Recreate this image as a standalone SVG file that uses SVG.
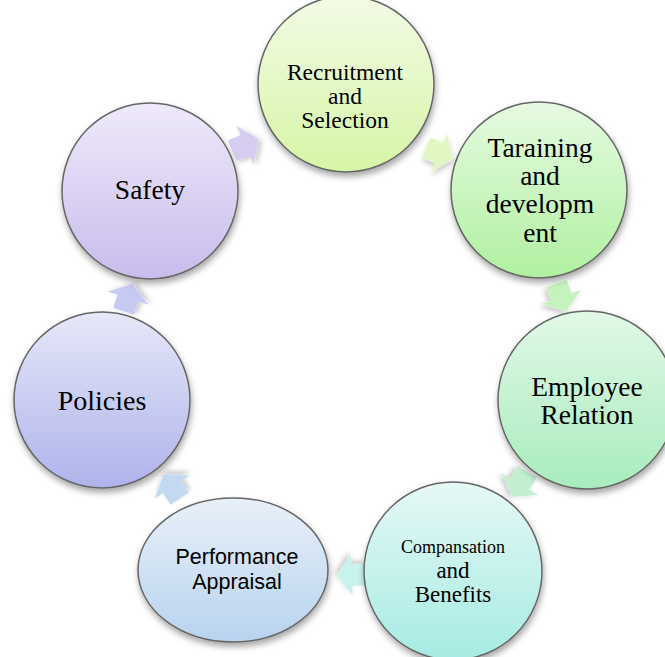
<svg xmlns="http://www.w3.org/2000/svg" width="665" height="657" viewBox="0 0 665 657">
  <style>
    .node { stroke: #666; stroke-width: 1.5; filter: url(#shadow); }
    .serif { font-family: "Liberation Serif", "Times New Roman", serif; fill: #000; text-anchor: middle; }
    .sans { font-family: "Liberation Sans", Arial, sans-serif; fill: #000; text-anchor: middle; }
    .arrow { filter: url(#ashadow); }
  </style>
  <defs>
    <filter id="shadow" x="-20%" y="-20%" width="140%" height="150%">
      <feDropShadow dx="1" dy="4" stdDeviation="3" flood-color="#000" flood-opacity="0.35"/>
    </filter>
    <filter id="ashadow" x="-40%" y="-40%" width="180%" height="180%">
      <feDropShadow dx="2" dy="3" stdDeviation="2.5" flood-color="#000" flood-opacity="0.22"/>
    </filter>
    <linearGradient id="gRec" x1="0" y1="0" x2="0" y2="1"><stop offset="0" stop-color="#f3fbe6"/><stop offset="1" stop-color="#d6f5a6"/></linearGradient>
    <linearGradient id="gTar" x1="0" y1="0" x2="0" y2="1"><stop offset="0" stop-color="#e6fae2"/><stop offset="1" stop-color="#b0f0a0"/></linearGradient>
    <linearGradient id="gEmp" x1="0" y1="0" x2="0" y2="1"><stop offset="0" stop-color="#e2f8e6"/><stop offset="1" stop-color="#a8ecbe"/></linearGradient>
    <linearGradient id="gCom" x1="0" y1="0" x2="0" y2="1"><stop offset="0" stop-color="#e6f8f6"/><stop offset="1" stop-color="#a6ebe3"/></linearGradient>
    <linearGradient id="gPer" x1="0" y1="0" x2="0" y2="1"><stop offset="0" stop-color="#e8f0f8"/><stop offset="1" stop-color="#b8d3ef"/></linearGradient>
    <linearGradient id="gPol" x1="0" y1="0" x2="0" y2="1"><stop offset="0" stop-color="#e6e8f8"/><stop offset="1" stop-color="#aeb3eb"/></linearGradient>
    <linearGradient id="gSaf" x1="0" y1="0" x2="0" y2="1"><stop offset="0" stop-color="#efeafa"/><stop offset="1" stop-color="#c8bcec"/></linearGradient>
    <!-- block arrow pointing along +x, centred on the origin -->
    <path id="blk" d="M-14,-11 L0,-11 L0,-21 L15,0 L0,21 L0,11 L-14,11 Z"/>
  </defs>

  <rect width="665" height="657" fill="#fff"/>

  <g id="connectors">
    <use href="#blk" class="arrow" fill="#d6cdf0" transform="translate(245,145) rotate(-24)"/>
    <use href="#blk" class="arrow" fill="#e0f7c2" transform="translate(439,153) rotate(23)"/>
    <use href="#blk" class="arrow" fill="#c6f2bd" transform="translate(561,297) rotate(71)"/>
    <use href="#blk" class="arrow" fill="#c1efd0" transform="translate(520,484) rotate(121)"/>
    <use href="#blk" class="arrow" fill="#c8f3ec" transform="translate(352,575) rotate(178)"/>
    <use href="#blk" class="arrow" fill="#c3d9f2" transform="translate(172,487) rotate(236)"/>
    <use href="#blk" class="arrow" fill="#c6c9f2" transform="translate(128,298) rotate(-72)"/>
  </g>

  <g id="recruitment">
    <circle class="node" cx="346" cy="84" r="88" fill="url(#gRec)"/>
    <text class="serif" font-size="23.5" x="345" y="80">Recruitment</text>
    <text class="serif" font-size="23.5" x="345" y="104">and</text>
    <text class="serif" font-size="23.5" x="345" y="128">Selection</text>
  </g>

  <g id="training">
    <circle class="node" cx="539" cy="190" r="88" fill="url(#gTar)"/>
    <text class="serif" font-size="27.5" x="540" y="157">Taraining</text>
    <text class="serif" font-size="27.5" x="540" y="185">and</text>
    <text class="serif" font-size="27.5" x="540" y="213">developm</text>
    <text class="serif" font-size="27.5" x="540" y="242">ent</text>
  </g>

  <g id="employee-relation">
    <circle class="node" cx="587" cy="400" r="89" fill="url(#gEmp)"/>
    <text class="serif" font-size="27.5" x="587" y="396">Employee</text>
    <text class="serif" font-size="27.5" x="587" y="424">Relation</text>
  </g>

  <g id="compensation">
    <circle class="node" cx="453" cy="571" r="89" fill="url(#gCom)"/>
    <text class="serif" font-size="18" x="453" y="553">Compansation</text>
    <text class="serif" font-size="23" x="453" y="578">and</text>
    <text class="serif" font-size="23" x="453" y="602">Benefits</text>
  </g>

  <g id="performance">
    <ellipse class="node" cx="233" cy="570" rx="95" ry="72" fill="url(#gPer)"/>
    <text class="sans" font-size="21.5" x="237" y="564">Performance</text>
    <text class="sans" font-size="21.5" x="237" y="589">Appraisal</text>
  </g>

  <g id="policies">
    <circle class="node" cx="102" cy="400" r="88" fill="url(#gPol)"/>
    <text class="serif" font-size="28" x="102" y="410">Policies</text>
  </g>

  <g id="safety">
    <circle class="node" cx="150" cy="191" r="88" fill="url(#gSaf)"/>
    <text class="serif" font-size="27.5" x="150" y="199">Safety</text>
  </g>
</svg>
